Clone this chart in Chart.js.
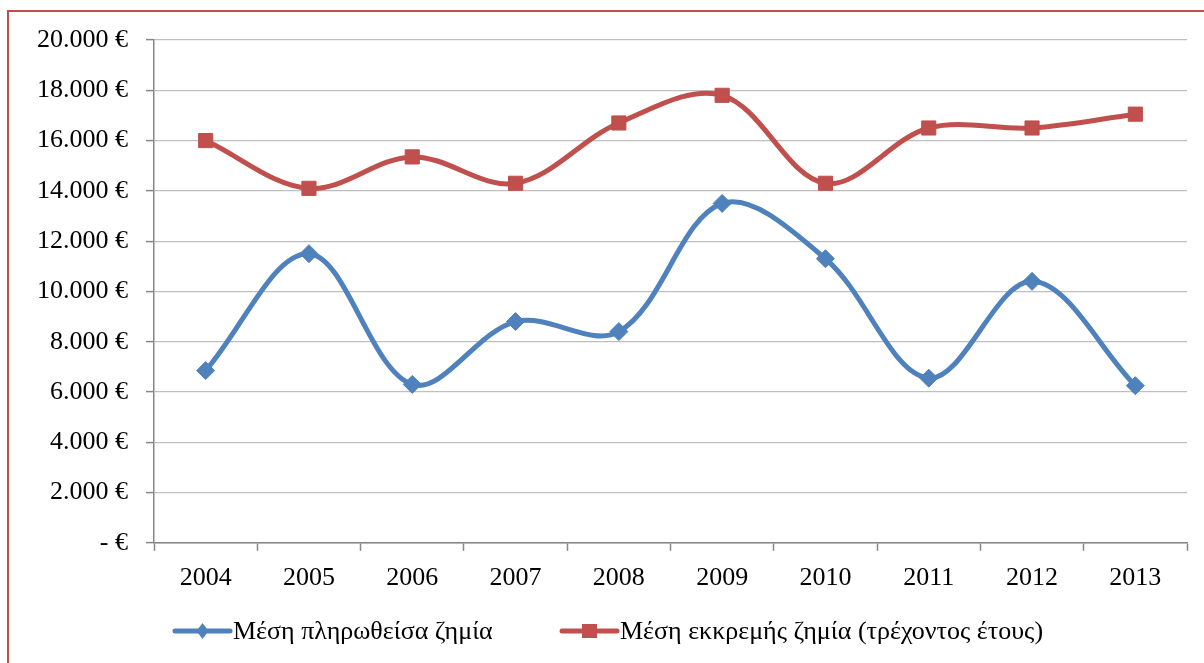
<!DOCTYPE html>
<html>
<head>
<meta charset="utf-8">
<title>Μέση ζημία 2004-2013</title>
<script src="https://cdn.jsdelivr.net/npm/chart.js@4.4.1/dist/chart.umd.min.js"></script>
<style>
  html, body { margin: 0; padding: 0; background: #fff; }
  #wrap { position: relative; width: 1204px; height: 663px; overflow: hidden; }
  #frame {
    position: absolute; left: 7px; top: 10px; width: 1300px; height: 800px;
    border: 2px solid #c0504d; box-sizing: border-box; pointer-events: none;
  }
  #chart { position: absolute; left: 0; top: 0; }
</style>
</head>
<body>
<div id="wrap">
  <canvas id="chart" width="1204" height="663"></canvas>
  <div id="frame"></div>
</div>
<script>
  'use strict';

  const years = ['2004', '2005', '2006', '2007', '2008', '2009', '2010', '2011', '2012', '2013'];
  const paidAvg = [6850, 11500, 6300, 8800, 8400, 13500, 11300, 6550, 10400, 6250];
  const pendingAvg = [16000, 14100, 15350, 14300, 16700, 17800, 14300, 16500, 16500, 17050];
  const seriesNames = ['Μέση πληρωθείσα ζημία', 'Μέση εκκρεμής ζημία (τρέχοντος έτους)'];

  const BLUE = '#4f81bd';
  const RED = '#c0504d';
  const FONT = "'Liberation Serif', 'DejaVu Serif', serif";

  function euro(v) {
    if (v === 0) return '- €';
    return String(v).replace(/\B(?=(\d{3})+(?!\d))/g, '.') + ' €';
  }

  // legend drawn by hand: Excel style line + marker, then the label
  const bottomLegend = {
    id: 'bottomLegend',
    afterDraw(chart) {
      const ctx = chart.ctx;
      const y = 631;
      const starts = [175, 562];
      ctx.save();
      ctx.font = '26px ' + FONT;
      ctx.textBaseline = 'middle';
      ctx.textAlign = 'left';
      chart.data.datasets.forEach((ds, i) => {
        const x = starts[i];
        ctx.strokeStyle = ds.borderColor;
        ctx.lineWidth = 5;
        ctx.lineCap = 'round';
        ctx.beginPath();
        ctx.moveTo(x, y);
        ctx.lineTo(x + 55, y);
        ctx.stroke();
        ctx.fillStyle = ds.borderColor;
        const cx = x + 27.5;
        if (ds.pointStyle === 'rectRot') {
          ctx.beginPath();
          ctx.moveTo(cx, y - 8);
          ctx.lineTo(cx + 6, y);
          ctx.lineTo(cx, y + 8);
          ctx.lineTo(cx - 6, y);
          ctx.closePath();
          ctx.fill();
        } else {
          ctx.fillRect(cx - 7.5, y - 7, 15, 14);
        }
        ctx.fillStyle = '#000';
        ctx.fillText(ds.label, x + 58, y + 1);
      });
      ctx.restore();
    }
  };

  new Chart(document.getElementById('chart'), {
    type: 'line',
    data: {
      labels: years,
      datasets: [
        {
          label: seriesNames[0],
          data: paidAvg,
          borderColor: BLUE,
          backgroundColor: BLUE,
          borderWidth: 5,
          tension: 0.35,
          pointStyle: 'rectRot',
          pointRadius: 9,
          pointBorderWidth: 1,
          pointBackgroundColor: BLUE,
          pointBorderColor: BLUE
        },
        {
          label: seriesNames[1],
          data: pendingAvg,
          borderColor: RED,
          backgroundColor: RED,
          borderWidth: 5,
          tension: 0.35,
          pointStyle: 'rect',
          pointRadius: 10,
          pointBorderWidth: 1,
          pointBackgroundColor: RED,
          pointBorderColor: RED
        }
      ]
    },
    options: {
      responsive: false,
      animation: false,
      devicePixelRatio: 1,
      layout: {
        padding: { left: 0, right: 17, top: 40, bottom: 57 }
      },
      plugins: {
        legend: { display: false },
        tooltip: { enabled: false }
      },
      scales: {
        x: {
          offset: true,
          grid: {
            offset: true,
            drawOnChartArea: false,
            drawTicks: true,
            tickLength: 8,
            tickColor: '#868686',
            tickWidth: 1.5
          },
          border: { color: '#868686', width: 1.5 },
          ticks: {
            color: '#000',
            padding: 12,
            font: { family: FONT, size: 26 }
          }
        },
        y: {
          min: 0,
          max: 20000,
          afterFit: scale => { scale.width = 154; },
          grid: {
            color: '#bfbfbf',
            lineWidth: 1.2,
            tickLength: 8,
            tickColor: '#868686',
            tickWidth: 1.5
          },
          border: { color: '#868686', width: 1.5 },
          ticks: {
            stepSize: 2000,
            color: '#000',
            padding: 18,
            font: { family: FONT, size: 26 },
            callback: v => euro(v)
          }
        }
      }
    },
    plugins: [bottomLegend]
  });
</script>
</body>
</html>
